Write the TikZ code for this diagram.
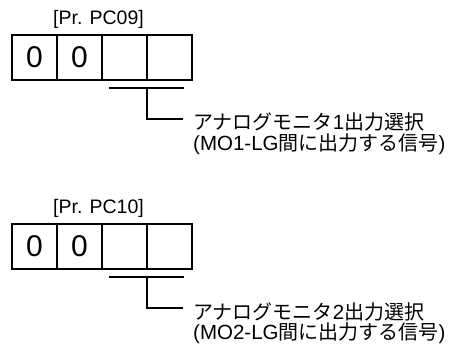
\documentclass[tikz,border=0pt]{standalone}
\usepackage{fontspec}
\setmainfont{Liberation Sans}
\newfontfamily\cjk{Noto Sans CJK JP}
\begin{document}
\begin{tikzpicture}[x=1pt,y=-1pt,
  cell/.style={draw,line width=1.1pt,minimum width=45pt,minimum height=45pt,inner sep=0pt,
    font=\fontsize{30}{30}\selectfont},
  lbl/.style={anchor=base,inner sep=0pt,font=\fontsize{19.5}{20}\selectfont},
  desc/.style={anchor=base west,inner sep=0pt,font=\fontsize{20.5}{21}\selectfont},
  conn/.style={line width=1.1pt}]
\useasboundingbox (0,0) rectangle (457,344);
% group 1
\node[lbl] (p1) at (98.5,25) {[Pr. PC09]};
\node[cell] (a1) at (34.5,57.5) {0};
\node[cell] (a2) at (79.5,57.5) {0};
\node[cell] (a3) at (124.5,57.5) {};
\node[cell] (a4) at (169.5,57.5) {};
\coordinate (aL) at (109,88);
\coordinate (aR) at (184,88);
\coordinate (aT) at (147,88);
\coordinate (aE) at (183,119);
\draw[conn] (aL) -- (aR);
\draw[conn] (aT) |- (aE);
\node[desc] (d1) at (193,130) {{\cjk\fontsize{20}{21}\selectfont アナログモニタ}1{\cjk\fontsize{20}{21}\selectfont 出力選択}};
\node[desc] (d2) at (193,150.5) {(MO1-LG{\cjk\fontsize{20}{21}\selectfont 間に出力する信号})};
% group 2
\node[lbl] (p2) at (98.5,214) {[Pr. PC10]};
\node[cell] (b1) at (34.5,246.5) {0};
\node[cell] (b2) at (79.5,246.5) {0};
\node[cell] (b3) at (124.5,246.5) {};
\node[cell] (b4) at (169.5,246.5) {};
\coordinate (bL) at (109,277);
\coordinate (bR) at (184,277);
\coordinate (bT) at (147,277);
\coordinate (bE) at (183,308);
\draw[conn] (bL) -- (bR);
\draw[conn] (bT) |- (bE);
\node[desc] (e1) at (193,319) {{\cjk\fontsize{20}{21}\selectfont アナログモニタ}2{\cjk\fontsize{20}{21}\selectfont 出力選択}};
\node[desc] (e2) at (193,339.5) {(MO2-LG{\cjk\fontsize{20}{21}\selectfont 間に出力する信号})};
\end{tikzpicture}
\end{document}
